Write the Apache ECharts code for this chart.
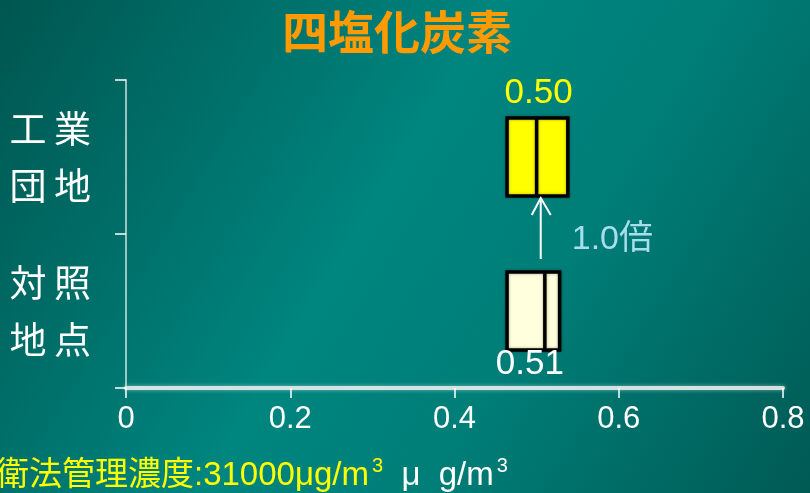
<!DOCTYPE html>
<html>
<head>
<meta charset="utf-8">
<script src="https://cdn.jsdelivr.net/npm/echarts@6/dist/echarts.min.js"></script>
<style>
  html, body { margin: 0; padding: 0; }
  #chart { width: 810px; height: 493px; }
</style>
</head>
<body>
<div id="chart"></div>
<script>
// Sites (bottom to top on the category axis)
const sites = ['対照地点', '工業団地'];
const siteLabels = ['対照\n地点', '工業\n団地'];
// Box edges and medians (μg/m3)
const lowerEdge = [0.464, 0.464];
const medianValue = [0.51, 0.50];
const upperEdge = [0.528, 0.538];
const medianText = ['0.51', '0.50'];
const boxFill = ['#FFFFDD', '#FFFF00'];
const medianTextColor = ['#FFFFFF', '#FFFF00'];
const ratioText = '1.0倍';
// Value axis
const xMin = 0, xMax = 0.8, xStep = 0.2;
const titleText = '四塩化炭素';

const BOX_W = 78;
const latin = "'Liberation Sans', 'Noto Sans CJK JP', sans-serif";
const cjk = "'Noto Sans CJK JP', sans-serif";

const chart = echarts.init(document.getElementById('chart'), null, { renderer: 'canvas' });

const boxData = sites.map((s, i) => ({
  value: [lowerEdge[i], lowerEdge[i], medianValue[i], upperEdge[i], upperEdge[i]],
  itemStyle: { color: boxFill[i], borderColor: '#000000', borderWidth: 3.5,
               shadowColor: 'rgba(0,0,0,0.35)', shadowBlur: 3 }
}));

const labelOffsets = [[-15, 53], [2, -64]];
const labelData = sites.map((s, i) => ({
  value: [medianValue[i], s],
  label: {
    show: true, position: 'inside', offset: labelOffsets[i],
    formatter: medianText[i], color: medianTextColor[i],
    fontSize: 35, fontFamily: latin
  }
}));

chart.setOption({
  backgroundColor: {
    type: 'linear', x: 0, y: 0, x2: 1, y2: 1,
    colorStops: [
      { offset: 0, color: '#005650' },
      { offset: 0.45, color: '#00857F' },
      { offset: 0.65, color: '#007E78' },
      { offset: 1, color: '#005A54' }
    ]
  },
  animation: false,
  textStyle: { fontFamily: latin },
  title: {
    text: titleText, left: 277, top: 4,
    textStyle: { color: '#FF9A00', fontSize: 46, fontWeight: 'bold', fontFamily: cjk }
  },
  grid: { left: 126, right: 27, top: 80, bottom: 105 },
  xAxis: {
    type: 'value', min: xMin, max: xMax, interval: xStep,
    axisLine: { show: true, lineStyle: { color: 'rgba(225,235,235,0.9)', width: 4,
                shadowColor: 'rgba(255,255,255,0.5)', shadowBlur: 4 } },
    axisTick: { show: true, length: 10, lineStyle: { color: '#FFFFFF', width: 1.5 } },
    splitLine: { show: false },
    axisLabel: { color: '#FFFFFF', fontSize: 31, margin: 16, fontFamily: latin }
  },
  yAxis: {
    type: 'category', data: sites,
    axisLine: { show: true, lineStyle: { color: 'rgba(255,255,255,0.6)', width: 2 } },
    axisTick: { show: true, length: 11, lineStyle: { color: '#FFFFFF', width: 1.5 } },
    axisLabel: {
      color: '#FFFFFF', fontSize: 37, lineHeight: 57, margin: 35, fontFamily: cjk,
      formatter: (v) => siteLabels[sites.indexOf(v)].split('\n').map(r => r.split('').join('\u2009')).join('\n')
    }
  },
  series: [
    { type: 'boxplot', data: boxData, boxWidth: [BOX_W, BOX_W], z: 3 },
    { type: 'scatter', data: labelData, symbolSize: 0, z: 4, silent: true,
      itemStyle: { opacity: 1 } }
  ]
});

// Arrow between the two boxes, placed from the axis scales
const arrowX = chart.convertToPixel({ xAxisIndex: 0 }, (medianValue[0] + medianValue[1]) / 2);
const yTop = chart.convertToPixel({ yAxisIndex: 0 }, sites[1]) + BOX_W / 2 + 2;
const yBot = chart.convertToPixel({ yAxisIndex: 0 }, sites[0]) - BOX_W / 2 - 13;
const arrowStyle = { stroke: '#FFFFFF', lineWidth: 2 };

chart.setOption({
  graphic: [
    { type: 'line', shape: { x1: arrowX, y1: yBot, x2: arrowX, y2: yTop }, style: arrowStyle, z: 10 },
    { type: 'polyline', shape: { points: [[arrowX - 9, yTop + 17], [arrowX, yTop], [arrowX + 10, yTop + 17]] },
      style: Object.assign({ fill: null }, arrowStyle), z: 10 },
    { type: 'text', x: arrowX + 31, y: (yTop + yBot) / 2 + 11,
      style: { text: ratioText, fill: '#A8DDEE', font: '34px ' + latin,
               textAlign: 'left', textVerticalAlign: 'middle' }, z: 10 },
    { type: 'text', left: -4, top: 456,
      style: {
        text: '{y|衛法管理濃度:31000μg/m}{ys|3}{w|  μ  g/m}{ws|3}',
        rich: {
          y: { fill: '#FFFF00', fontSize: 33, fontFamily: latin, lineHeight: 36, verticalAlign: 'bottom' },
          ys: { fill: '#FFFF00', fontSize: 20, fontFamily: latin, lineHeight: 36, verticalAlign: 'top', padding: [0, 0, 0, 3] },
          w: { fill: '#FFFFFF', fontSize: 33, fontFamily: latin, lineHeight: 36, verticalAlign: 'bottom' },
          ws: { fill: '#FFFFFF', fontSize: 20, fontFamily: latin, lineHeight: 36, verticalAlign: 'top', padding: [0, 0, 0, 3] }
        }
      }, z: 10 }
  ]
});
</script>
</body>
</html>
